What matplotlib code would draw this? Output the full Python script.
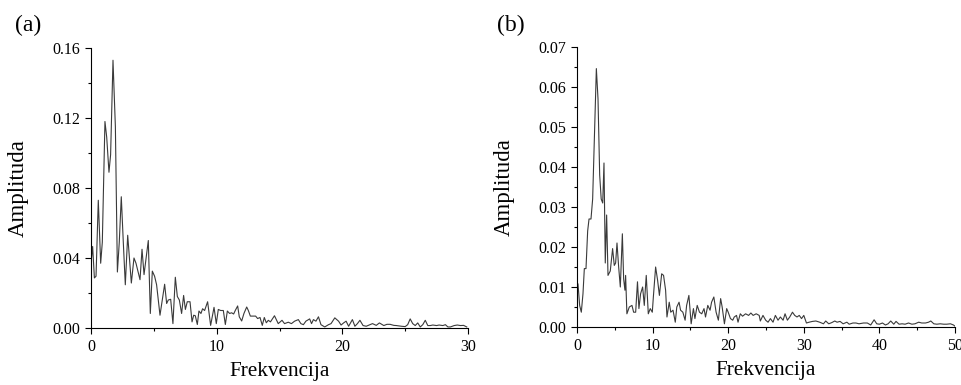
import matplotlib
matplotlib.use('Agg')
import matplotlib.pyplot as plt
from matplotlib.ticker import MultipleLocator, FormatStrFormatter

plt.rcParams['font.family'] = ['Liberation Serif', 'DejaVu Serif']

# panel (a): frequency / amplitude (10 per row)
freq_a = [0.0, 0.13, 0.27, 0.4, 0.58, 0.77, 0.9, 1.11, 1.25, 1.43,
          1.56, 1.75, 1.94, 2.10, 2.25, 2.41, 2.57, 2.73, 2.92, 3.21,
          3.42, 3.58, 3.90, 4.06, 4.22, 4.56, 4.72, 4.88, 5.06, 5.22,
          5.49, 5.86, 6.02, 6.15, 6.34, 6.52, 6.71, 6.87, 7.03, 7.21,
          7.37, 7.51, 7.66, 7.88, 8.04, 8.17, 8.30, 8.46, 8.59, 8.75,
          8.88, 9.04, 9.28, 9.52, 9.79, 9.97, 10.13, 10.32, 10.53, 10.69,
          10.85, 11.03, 11.19, 11.35, 11.48, 11.67, 11.80, 11.99, 12.17, 12.39,
          12.52, 12.68, 12.92, 13.10, 13.26, 13.45, 13.63, 13.79, 13.95, 14.11,
          14.28, 14.6, 14.9, 15.2, 15.4, 15.7, 15.95, 16.2, 16.5, 16.7,
          16.9, 17.1, 17.4, 17.55, 17.7, 17.9, 18.1, 18.3, 18.6, 18.9,
          19.1, 19.4, 19.7, 19.9, 20.1, 20.3, 20.5, 20.8, 21.0, 21.2,
          21.4, 21.65, 21.9, 22.2, 22.4, 22.7, 22.95, 23.3, 23.55, 23.8,
          24.1, 24.3, 24.7, 25.0, 25.2, 25.4, 25.6, 25.8, 26.0, 26.2,
          26.4, 26.6, 26.8, 27.0, 27.2, 27.5, 27.7, 28.0, 28.2, 28.4,
          28.6, 28.9, 29.15, 29.4, 29.65, 29.9]
amp_a = [0.037, 0.0466, 0.0286, 0.0296, 0.073, 0.037, 0.049, 0.118, 0.109, 0.089,
         0.099, 0.153, 0.115, 0.032, 0.049, 0.075, 0.049, 0.0247, 0.053, 0.0257,
         0.040, 0.037, 0.0276, 0.045, 0.0305, 0.050, 0.0083, 0.0325, 0.0296, 0.0247,
         0.0073, 0.025, 0.014, 0.016, 0.0164, 0.0025, 0.029, 0.018, 0.016, 0.0083,
         0.0186, 0.0106, 0.015, 0.015, 0.0035, 0.0073, 0.007, 0.002, 0.0097, 0.0083,
         0.011, 0.010, 0.015, 0.0015, 0.0118, 0.0025, 0.0106, 0.010, 0.010, 0.002,
         0.0097, 0.0083, 0.0087, 0.008, 0.010, 0.0126, 0.0064, 0.004, 0.0083, 0.012,
         0.010, 0.0068, 0.0068, 0.0068, 0.0054, 0.006, 0.0015, 0.006, 0.003, 0.0044,
         0.0035, 0.007, 0.0025, 0.0044, 0.0025, 0.0033, 0.0025, 0.0039, 0.0048, 0.0025,
         0.0019, 0.0039, 0.0052, 0.0025, 0.0048, 0.0039, 0.0064, 0.0019, 0.0006, 0.0019,
         0.0025, 0.0058, 0.0039, 0.0017, 0.0029, 0.0039, 0.001, 0.0048, 0.001, 0.0025,
         0.0044, 0.0014, 0.001, 0.0019, 0.0025, 0.0015, 0.0029, 0.0014, 0.0021, 0.0021,
         0.0015, 0.0014, 0.001, 0.0008, 0.0019, 0.0052, 0.0025, 0.0014, 0.0029, 0.0006,
         0.0019, 0.0044, 0.0014, 0.0014, 0.0017, 0.0014, 0.0017, 0.0014, 0.0019, 0.0006,
         0.0006, 0.0014, 0.0017, 0.0014, 0.0015, 0.0006]

# panel (b)
freq_b = [0.0, 0.13, 0.35, 0.57, 0.79, 0.97, 1.19, 1.41, 1.59, 1.85,
          2.07, 2.29, 2.56, 2.78, 3.0, 3.2, 3.4, 3.57, 3.74, 3.92,
          4.1, 4.4, 4.71, 4.93, 5.11, 5.29, 5.51, 5.73, 6.0, 6.17,
          6.34, 6.43, 6.6, 6.92, 7.27, 7.49, 7.76, 8.0, 8.19, 8.41,
          8.68, 8.90, 9.16, 9.43, 9.69, 9.96, 10.1, 10.4, 10.66, 10.9,
          11.2, 11.45, 11.72, 11.9, 12.2, 12.4, 12.7, 13.0, 13.2, 13.5,
          13.7, 14.0, 14.3, 14.5, 14.8, 15.1, 15.4, 15.6, 15.9, 16.2,
          16.5, 16.8, 17.0, 17.3, 17.6, 17.8, 18.1, 18.4, 18.7, 19.0,
          19.2, 19.5, 19.8, 20.0, 20.3, 20.6, 20.8, 21.1, 21.3, 21.6,
          21.9, 22.3, 22.7, 23.0, 23.3, 23.7, 24.1, 24.25, 24.6, 24.96,
          25.27, 25.58, 25.93, 26.24, 26.59, 26.9, 27.26, 27.52, 27.83, 28.14,
          28.5, 28.8, 29.1, 29.4, 29.7, 30.0, 30.35, 30.7, 31.15, 31.6,
          32.1, 32.6, 32.9, 33.3, 33.7, 34.1, 34.4, 34.8, 35.2, 35.7,
          36.0, 36.5, 36.9, 37.3, 37.9, 38.4, 38.85, 39.3, 39.65, 40.0,
          40.4, 40.8, 41.15, 41.5, 41.9, 42.2, 42.6, 43.0, 43.4, 43.85,
          44.3, 44.7, 45.2, 45.6, 46.1, 46.5, 46.8, 47.2, 47.6, 48.05,
          48.5, 48.9, 49.4, 49.8, 50.0]
amp_b = [0.0092, 0.0108, 0.0054, 0.0037, 0.0083, 0.0146, 0.0146, 0.024, 0.027, 0.027,
         0.032, 0.047, 0.0646, 0.057, 0.038, 0.032, 0.031, 0.041, 0.016, 0.028,
         0.0129, 0.014, 0.0196, 0.0154, 0.016, 0.021, 0.015, 0.010, 0.0233, 0.012,
         0.0092, 0.0129, 0.0033, 0.005, 0.0054, 0.0037, 0.0037, 0.0113, 0.0046, 0.0083,
         0.010, 0.0054, 0.0129, 0.0033, 0.0046, 0.0037, 0.0075, 0.015, 0.0117, 0.0079,
         0.0133, 0.0129, 0.0092, 0.0025, 0.0062, 0.0037, 0.0042, 0.0012, 0.005, 0.0062,
         0.0042, 0.0037, 0.0017, 0.0054, 0.0079, 0.0008, 0.0046, 0.0021, 0.0054, 0.0037,
         0.0033, 0.0046, 0.0025, 0.0054, 0.0042, 0.0062, 0.0075, 0.0037, 0.0017, 0.0071,
         0.005, 0.0008, 0.0046, 0.0037, 0.0021, 0.0017, 0.0025, 0.0029, 0.0012, 0.0033,
         0.0027, 0.0033, 0.0029, 0.0035, 0.0029, 0.0033, 0.0029, 0.0015, 0.0029, 0.0017,
         0.0012, 0.0021, 0.0012, 0.0029, 0.0017, 0.0025, 0.0017, 0.0033, 0.0017, 0.0025,
         0.0037, 0.0029, 0.0025, 0.0029, 0.0021, 0.0029, 0.001, 0.0012, 0.0014, 0.0015,
         0.0012, 0.0008, 0.0015, 0.0008, 0.0011, 0.0015, 0.0012, 0.0014, 0.0008, 0.0012,
         0.0007, 0.001, 0.001, 0.0008, 0.001, 0.001, 0.0005, 0.0018, 0.0008, 0.0007,
         0.001, 0.0005, 0.0008, 0.0015, 0.0007, 0.0014, 0.0007, 0.0008, 0.0007, 0.001,
         0.0007, 0.0008, 0.0012, 0.001, 0.001, 0.0012, 0.0015, 0.0008, 0.0007, 0.0008,
         0.0007, 0.0007, 0.0008, 0.0005, 0.0002]

panels = [
    dict(x=freq_a, y=amp_a, xmax=30, ymax=0.16, ymaj=0.04, ymin=0.02, xmin=5,
         rect=[91/962, 57/385, 377/962, 280/385], tag='(a)', tagx=28/962),
    dict(x=freq_b, y=amp_b, xmax=50, ymax=0.07, ymaj=0.01, ymin=0.005, xmin=5,
         rect=[577/962, 58/385, 378/962, 280/385], tag='(b)', tagx=511/962),
]

fig = plt.figure(figsize=(9.62, 3.85), dpi=100)

for p in panels:
    ax = fig.add_axes(p['rect'])
    ax.plot(p['x'], p['y'], color='#3a3a3a', lw=0.8)
    ax.set_xlim(0, p['xmax'])
    ax.set_ylim(0, p['ymax'])
    ax.xaxis.set_major_locator(MultipleLocator(10))
    ax.xaxis.set_minor_locator(MultipleLocator(p['xmin']))
    ax.yaxis.set_major_locator(MultipleLocator(p['ymaj']))
    ax.yaxis.set_minor_locator(MultipleLocator(p['ymin']))
    ax.yaxis.set_major_formatter(FormatStrFormatter('%.2f'))
    for s in ['top', 'right']:
        ax.spines[s].set_visible(False)
    for s in ['left', 'bottom']:
        ax.spines[s].set_linewidth(0.8)
    ax.tick_params(which='major', direction='out', length=4, width=0.8,
                   labelsize=11.5, pad=4)
    ax.tick_params(which='minor', direction='out', length=2.5, width=0.8)
    ax.set_xlabel('Frekvencija', fontsize=15.3)
    ax.set_ylabel('Amplituda', fontsize=16.5)
    ax.xaxis.set_label_coords(0.5, -0.12)
    ax.yaxis.set_label_coords(-0.165, 0.5)
    fig.text(p['tagx'], 1 - 25/385, p['tag'], fontsize=17, ha='center', va='center')

plt.savefig('out.png', dpi=100)
